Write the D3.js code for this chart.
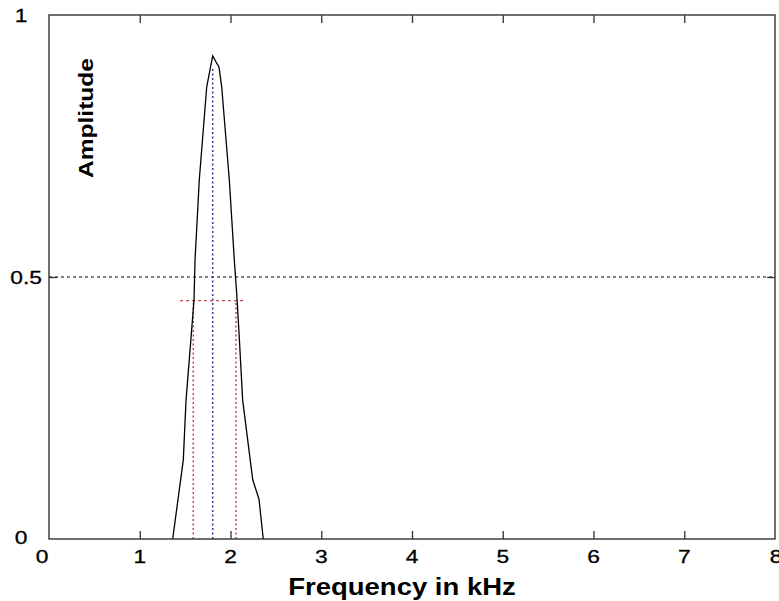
<!DOCTYPE html>
<html>
<head>
<meta charset="utf-8">
<script src="https://cdn.jsdelivr.net/npm/d3@7"></script>
<style>
  body { margin: 0; background: #fff; }
  svg { display: block; }
  text { font-family: "Liberation Sans", Arial, sans-serif; fill: #000; }
</style>
</head>
<body>
<svg id="chart" width="779" height="601"></svg>
<script>
// spectrum (kHz, amplitude)
var freq = [1.363, 1.48, 1.51, 1.572, 1.598, 1.609, 1.656, 1.738, 1.804, 1.848, 1.873, 1.903, 1.987, 2.042, 2.068, 2.094, 2.134, 2.245, 2.314, 2.361];
var amp  = [0, 0.151, 0.265, 0.399, 0.456, 0.532, 0.685, 0.863, 0.922, 0.908, 0.901, 0.863, 0.685, 0.532, 0.469, 0.393, 0.265, 0.113, 0.076, 0];

var xTicks = [0, 1, 2, 3, 4, 5, 6, 7, 8];
var yTicks = [0, 0.5, 1];

// marker lines
var halfLevel = 0.5;
var peakFreq = 1.804, peakMark = 0.9;
var bwLevel = 0.455, bwLow = 1.59, bwHigh = 2.06;
var bwSpan = [1.444, 2.171];

var svg = d3.select("#chart");
var pLeft = 49, pRight = 775, pTop = 15, pBottom = 539;

var x = d3.scaleLinear().domain([0, 8]).range([pLeft, pRight]);
var y = d3.scaleLinear().domain([0, 1]).range([pBottom, pTop]);

// dashed helpers
svg.append("line")
  .attr("x1", x(0)).attr("x2", x(8))
  .attr("y1", y(halfLevel)).attr("y2", y(halfLevel))
  .attr("stroke", "#000").attr("stroke-width", 1.2)
  .attr("stroke-dasharray", "3,3");

svg.append("line")
  .attr("x1", x(peakFreq)).attr("x2", x(peakFreq))
  .attr("y1", y(0)).attr("y2", y(peakMark))
  .attr("stroke", "#3a3a8c").attr("stroke-width", 1.5)
  .attr("stroke-dasharray", "2,2.5");

var red = "#b84d4d";
svg.append("line")
  .attr("x1", x(bwSpan[0])).attr("x2", x(bwSpan[1]))
  .attr("y1", y(bwLevel)).attr("y2", y(bwLevel))
  .attr("stroke", red).attr("stroke-width", 1.4)
  .attr("stroke-dasharray", "3,3");
[bwLow, bwHigh].forEach(function (f) {
  svg.append("line")
    .attr("x1", x(f)).attr("x2", x(f))
    .attr("y1", y(0)).attr("y2", y(bwLevel))
    .attr("stroke", red).attr("stroke-width", 1.5)
    .attr("stroke-dasharray", "2,2.5");
});

// the curve
var pts = freq.map(function (f, i) { return [f, amp[i]]; });
svg.append("path")
  .datum(pts)
  .attr("fill", "none").attr("stroke", "#000").attr("stroke-width", 1.3)
  .attr("d", d3.line().x(function (d) { return x(d[0]); }).y(function (d) { return y(d[1]); }));

// box and inward ticks
svg.append("rect")
  .attr("x", pLeft).attr("y", pTop)
  .attr("width", pRight - pLeft).attr("height", pBottom - pTop)
  .attr("fill", "none").attr("stroke", "#333").attr("stroke-width", 1.4);

var axisBottom = d3.axisBottom(x).tickValues(xTicks.slice(1, -1)).tickSizeInner(-8).tickSizeOuter(0).tickFormat("");
var axisTop = d3.axisTop(x).tickValues(xTicks.slice(1, -1)).tickSizeInner(-8).tickSizeOuter(0).tickFormat("");
var axisLeft = d3.axisLeft(y).tickValues(yTicks.slice(1, -1)).tickSizeInner(-8).tickSizeOuter(0).tickFormat("");
var axisRight = d3.axisRight(y).tickValues(yTicks.slice(1, -1)).tickSizeInner(-8).tickSizeOuter(0).tickFormat("");

[[axisBottom, "translate(0," + pBottom + ")"], [axisTop, "translate(0," + pTop + ")"],
 [axisLeft, "translate(" + pLeft + ",0)"], [axisRight, "translate(" + pRight + ",0)"]].forEach(function (a) {
  var g = svg.append("g").attr("transform", a[1]).call(a[0]);
  g.select(".domain").remove();
  g.selectAll("line").attr("stroke", "#333").attr("stroke-width", 1.3);
});

// tick labels
function label(txt, px, py, size, anchor, sx) {
  svg.append("text")
    .attr("transform", "translate(" + px + "," + py + ") scale(" + sx + ",1)")
    .attr("text-anchor", anchor)
    .attr("font-size", size)
    .attr("stroke", "#000").attr("stroke-width", 0.3)
    .text(txt);
}
xTicks.forEach(function (t) {
  var px = x(t);
  if (t === 0) px = 42;
  if (t === 8) px = 776;
  label(d3.format("d")(t), px, 563, 19, "middle", 1.2);
});
yTicks.forEach(function (t) {
  if (t === 0.5) label("0.5", 42, 284, 19, "end", 1.2);
  else label(d3.format("d")(t), 21, y(t) + (t === 0 ? 5 : 7), 19, "middle", 1.2);
});

// axis titles
svg.append("text")
  .attr("transform", "translate(402,595) scale(1.17,1)")
  .attr("text-anchor", "middle")
  .attr("font-size", 23.5).attr("font-weight", "bold")
  .text("Frequency in kHz");

svg.append("text")
  .attr("transform", "translate(93,118) rotate(-90) scale(1.17,1)")
  .attr("text-anchor", "middle")
  .attr("font-size", 21).attr("font-weight", "bold")
  .text("Amplitude");
</script>
</body>
</html>
